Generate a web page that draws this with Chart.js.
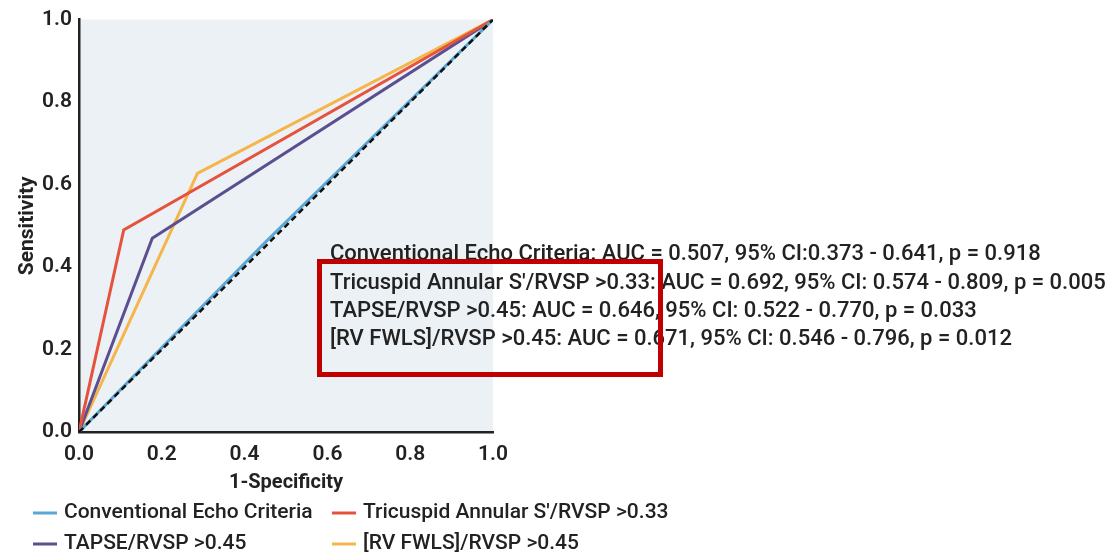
<!DOCTYPE html>
<html>
<head>
<meta charset="utf-8">
<script src="https://cdn.jsdelivr.net/npm/chart.js@4.4.1/dist/chart.umd.min.js"></script>
<style>
  html, body { margin: 0; padding: 0; background: #ffffff; }
  #wrap { width: 1120px; height: 555px; }
</style>
</head>
<body>
<div id="wrap"><canvas id="rocChart" width="1120" height="555"></canvas></div>
<script>
// ROC points (1-Specificity, Sensitivity)
const seriesNames = [
    'Conventional Echo Criteria',
    "Tricuspid Annular S'/RVSP >0.33",
    'TAPSE/RVSP >0.45',
    '[RV FWLS]/RVSP >0.45'
];
const convX = [0, 0.45, 1];
const convY = [0, 0.46, 1];
const triX = [0, 0.108, 1];
const triY = [0, 0.49, 1];
const tapseX = [0, 0.177, 1];
const tapseY = [0, 0.47, 1];
const fwlsX = [0, 0.286, 1];
const fwlsY = [0, 0.627, 1];
const refX = [0, 1];
const refY = [0, 1];
const tickValues = [0, 0.2, 0.4, 0.6, 0.8, 1.0];

const aucLines = [
    'Conventional Echo Criteria: AUC = 0.507, 95% CI:0.373 - 0.641, p = 0.918',
    "Tricuspid Annular S\u2032/RVSP >0.33: AUC = 0.692, 95% CI: 0.574 - 0.809, p = 0.005",
    'TAPSE/RVSP >0.45: AUC = 0.646, 95% CI: 0.522 - 0.770, p = 0.033',
    '[RV FWLS]/RVSP >0.45: AUC = 0.671, 95% CI: 0.546 - 0.796, p = 0.012'
];

const colors = ['#5ba6d4', '#e5533d', '#5b4f8f', '#f6b54a'];
const FONT = 'Roboto, "Noto Sans", sans-serif';

function pts(xs, ys) {
    return xs.map((x, i) => ({ x: x, y: ys[i] }));
}

document.addEventListener('DOMContentLoaded', function () {
    const canvas = document.getElementById('rocChart');

    // light plot background
    const plotBg = {
        id: 'plotBg',
        beforeDraw(chart) {
            const { ctx, chartArea: { left, top, width, height } } = chart;
            ctx.save();
            ctx.fillStyle = '#ecf1f6';
            ctx.fillRect(left, top, width, height);
            ctx.restore();
        }
    };

    // AUC text block, red box and legend
    const extras = {
        id: 'extras',
        afterDraw(chart) {
            const { ctx } = chart;
            ctx.save();
            ctx.font = '500 22px ' + FONT;
            ctx.fillStyle = '#222222';
            ctx.textAlign = 'left';
            ctx.textBaseline = 'middle';
            const lineY = [254, 283, 311, 339];
            aucLines.forEach((t, i) => ctx.fillText(t, 330, lineY[i]));

            ctx.strokeStyle = '#c00000';
            ctx.lineWidth = 5;
            ctx.strokeRect(319.5, 261.5, 341, 113);

            // legend, two columns
            ctx.font = '500 21px ' + FONT;
            const cols = [33, 332];
            const rows = [513, 544];
            seriesNames.forEach((name, i) => {
                const cx = cols[i % 2];
                const cy = rows[Math.floor(i / 2)];
                ctx.beginPath();
                ctx.moveTo(cx, cy);
                ctx.lineTo(cx + 24, cy);
                ctx.strokeStyle = colors[i];
                ctx.lineWidth = 3;
                ctx.stroke();
                ctx.fillStyle = '#222222';
                ctx.fillText(name, cx + 31, cy);
            });
            ctx.restore();
        }
    };

    new Chart(canvas, {
        type: 'scatter',
        data: {
            datasets: [
                { label: 'ref', data: pts(refX, refY), borderColor: '#111111', borderWidth: 2.5, borderDash: [6, 4] },
                { label: seriesNames[0], data: pts(convX, convY), borderColor: colors[0], borderWidth: 3 },
                { label: seriesNames[1], data: pts(triX, triY), borderColor: colors[1], borderWidth: 3 },
                { label: seriesNames[2], data: pts(tapseX, tapseY), borderColor: colors[2], borderWidth: 3 },
                { label: seriesNames[3], data: pts(fwlsX, fwlsY), borderColor: colors[3], borderWidth: 3 }
            ].map(d => Object.assign(d, { showLine: true, pointRadius: 0, tension: 0, fill: false }))
        },
        options: {
            responsive: false,
            animation: false,
            layout: { padding: { left: 0, right: 627, top: 18, bottom: 0 } },
            scales: {
                x: {
                    type: 'linear',
                    min: 0,
                    max: 1,
                    afterFit(scale) { scale.height = 123; },
                    afterBuildTicks(scale) { scale.ticks = tickValues.map(v => ({ value: v })); },
                    grid: { display: false, drawTicks: false },
                    border: { display: true, color: '#222222', width: 2.5 },
                    ticks: {
                        padding: 10,
                        color: '#222222',
                        font: { family: FONT, size: 21, weight: '600' },
                        callback: v => v.toFixed(1)
                    },
                    title: {
                        display: true,
                        text: '1-Specificity',
                        color: '#222222',
                        font: { family: FONT, size: 20, weight: 'bold' },
                        padding: { top: 0, bottom: 60 }
                    }
                },
                y: {
                    type: 'linear',
                    min: 0,
                    max: 1,
                    afterFit(scale) { scale.width = 79; },
                    afterBuildTicks(scale) { scale.ticks = tickValues.map(v => ({ value: v })); },
                    grid: { display: false, drawTicks: false },
                    border: { display: true, color: '#222222', width: 2.5 },
                    ticks: {
                        padding: 7,
                        color: '#222222',
                        font: { family: FONT, size: 21, weight: '600' },
                        callback: v => v.toFixed(1)
                    },
                    title: {
                        display: true,
                        text: 'Sensitivity',
                        color: '#222222',
                        font: { family: FONT, size: 21, weight: 'bold' },
                        padding: { top: 15, bottom: 0 }
                    }
                }
            },
            plugins: {
                legend: { display: false },
                tooltip: { enabled: false }
            }
        },
        plugins: [plotBg, extras]
    });
});
</script>
</body>
</html>
